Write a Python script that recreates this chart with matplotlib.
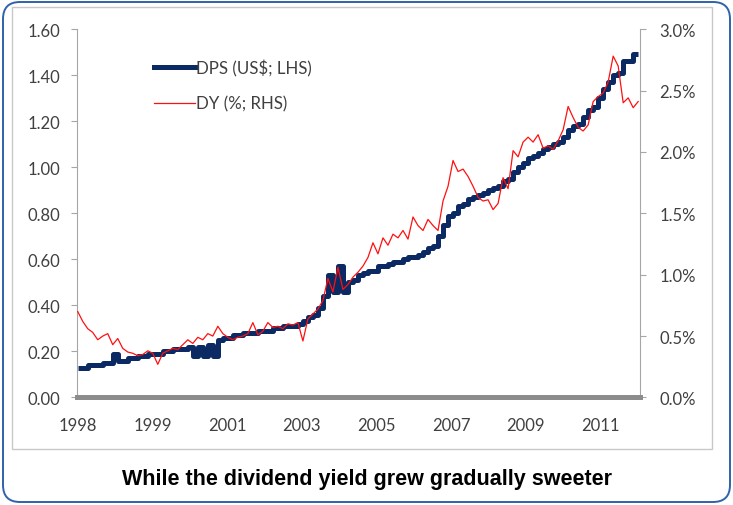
import matplotlib.pyplot as plt
import numpy as np
from matplotlib.patches import FancyBboxPatch, Rectangle
from matplotlib.lines import Line2D

# x-axis category labels (evenly spaced, as in the original Excel chart)
year_labels = ["1998", "1999", "2001", "2003", "2005", "2007", "2009", "2011"]

# dividend yield, % (right axis) - evenly spaced samples
dy = [0.70, 0.62, 0.56, 0.53, 0.47, 0.50, 0.52, 0.43, 0.48, 0.40,
      0.37, 0.36, 0.34, 0.35, 0.38, 0.36, 0.27, 0.36, 0.38, 0.40,
      0.39, 0.43, 0.47, 0.44, 0.49, 0.47, 0.52, 0.50, 0.58, 0.52,
      0.49, 0.47, 0.49, 0.50, 0.52, 0.61, 0.51, 0.54, 0.61, 0.57,
      0.58, 0.56, 0.60, 0.59, 0.61, 0.46, 0.64, 0.68, 0.72, 0.79,
      0.97, 0.86, 1.06, 0.88, 0.92, 0.98, 1.02, 1.07, 1.14, 1.26,
      1.17, 1.30, 1.24, 1.33, 1.30, 1.36, 1.29, 1.47, 1.40, 1.36,
      1.45, 1.40, 1.36, 1.60, 1.72, 1.93, 1.84, 1.86, 1.80, 1.72,
      1.63, 1.60, 1.61, 1.53, 1.58, 1.79, 1.70, 2.01, 1.96, 2.08,
      2.12, 2.08, 2.14, 2.03, 2.05, 2.02, 2.09, 2.18, 2.37, 2.28,
      2.20, 2.17, 2.22, 2.41, 2.45, 2.48, 2.57, 2.78, 2.70, 2.40,
      2.44, 2.36, 2.41]

# dividend per share, US$ (left axis) - same sampling
dps = [0.13, 0.13, 0.14, 0.14, 0.14, 0.15, 0.15, 0.19, 0.16, 0.16,
       0.17, 0.17, 0.18, 0.18, 0.19, 0.19, 0.19, 0.20, 0.20, 0.21,
       0.21, 0.21, 0.22, 0.18, 0.22, 0.18, 0.23, 0.18, 0.25, 0.26,
       0.26, 0.27, 0.27, 0.28, 0.28, 0.28, 0.29, 0.29, 0.29, 0.30,
       0.30, 0.31, 0.31, 0.31, 0.32, 0.33, 0.35, 0.36, 0.39, 0.44,
       0.53, 0.46, 0.57, 0.46, 0.50, 0.51, 0.53, 0.54, 0.55, 0.55,
       0.57, 0.57, 0.58, 0.59, 0.59, 0.60, 0.61, 0.61, 0.62, 0.63,
       0.65, 0.66, 0.70, 0.75, 0.79, 0.80, 0.83, 0.84, 0.86, 0.87,
       0.88, 0.89, 0.90, 0.91, 0.92, 0.94, 0.95, 0.98, 1.00, 1.02,
       1.04, 1.05, 1.06, 1.08, 1.09, 1.10, 1.11, 1.13, 1.16, 1.18,
       1.19, 1.22, 1.25, 1.26, 1.30, 1.34, 1.37, 1.40, 1.41, 1.46,
       1.46, 1.49, 1.49]

# time position of samples in label units (0 = 1998 label)
t = np.linspace(0, 7.507, len(dy))

navy = "#0b2a63"
txt = "#404040"
plt.rcParams["font.family"] = ["Lato", "DejaVu Sans"]

fig = plt.figure(figsize=(7.33, 5.06), dpi=100)

# outer rounded blue frame and inner grey chart frame
fig.patches.append(FancyBboxPatch((0.03, 0.03), 7.27, 5.0,
                                  boxstyle="round,pad=0,rounding_size=0.17",
                                  transform=fig.dpi_scale_trans, fill=False,
                                  edgecolor="#2f62aa", linewidth=1.4))
fig.patches.append(Rectangle((0.12, 0.56), 7.0, 4.42, transform=fig.dpi_scale_trans,
                             fill=False, edgecolor="#c8c8c8", linewidth=1.0))

ax = fig.add_axes([0.105, 0.2125, 0.768, 0.728])
ax.plot(t, dps, color=navy, lw=3.6, drawstyle="steps-post", solid_capstyle="butt")
ax.set_ylim(0, 1.6)
ax.set_xlim(-0.01, 7.53)
ax.set_yticks(np.arange(0, 1.61, 0.2))
ax.set_yticklabels(["%.2f" % v for v in np.arange(0, 1.61, 0.2)])
ax.set_xticks(range(len(year_labels)))
ax.set_xticklabels(year_labels)

ax2 = ax.twinx()
ax2.plot(t, dy, color="#ff1010", lw=0.9)
ax2.set_ylim(0, 3.0)
ax2.set_yticks(np.arange(0, 3.01, 0.5))
ax2.set_yticklabels(["%.1f%%" % v for v in np.arange(0, 3.01, 0.5)])

for a in (ax, ax2):
    a.spines["top"].set_visible(False)
    a.spines["left"].set_color("#a6a6a6")
    a.spines["right"].set_color("#a6a6a6")
    a.spines["bottom"].set_color("#8c8c8c")
    a.spines["bottom"].set_linewidth(3.5)
    a.patch.set_visible(False)
ax2.spines["left"].set_visible(False)
ax.spines["right"].set_visible(False)

ax.tick_params(axis="y", length=4, color="#a6a6a6", labelsize=12, labelcolor=txt, pad=8)
ax2.tick_params(axis="y", length=4, color="#a6a6a6", labelsize=12, labelcolor=txt, pad=10)
ax.tick_params(axis="x", length=0, labelsize=12, labelcolor=txt, pad=14)

handles = [Line2D([], [], color=navy, lw=3.6), Line2D([], [], color="#ff1010", lw=0.9)]
ax2.legend(handles, ["DPS (US$; LHS)", "DY (%; RHS)"], loc="upper left",
           bbox_to_anchor=(0.11, 0.96), frameon=False, fontsize=12.2,
           handlelength=2.4, handletextpad=0.1, labelspacing=1.15,
           labelcolor=txt)

fig.text(0.5, 0.052, "While the dividend yield grew gradually sweeter",
         ha="center", va="center", fontsize=15.5, fontweight="bold",
         family="Liberation Sans", color="black")

fig.savefig("out.png", dpi=100)
